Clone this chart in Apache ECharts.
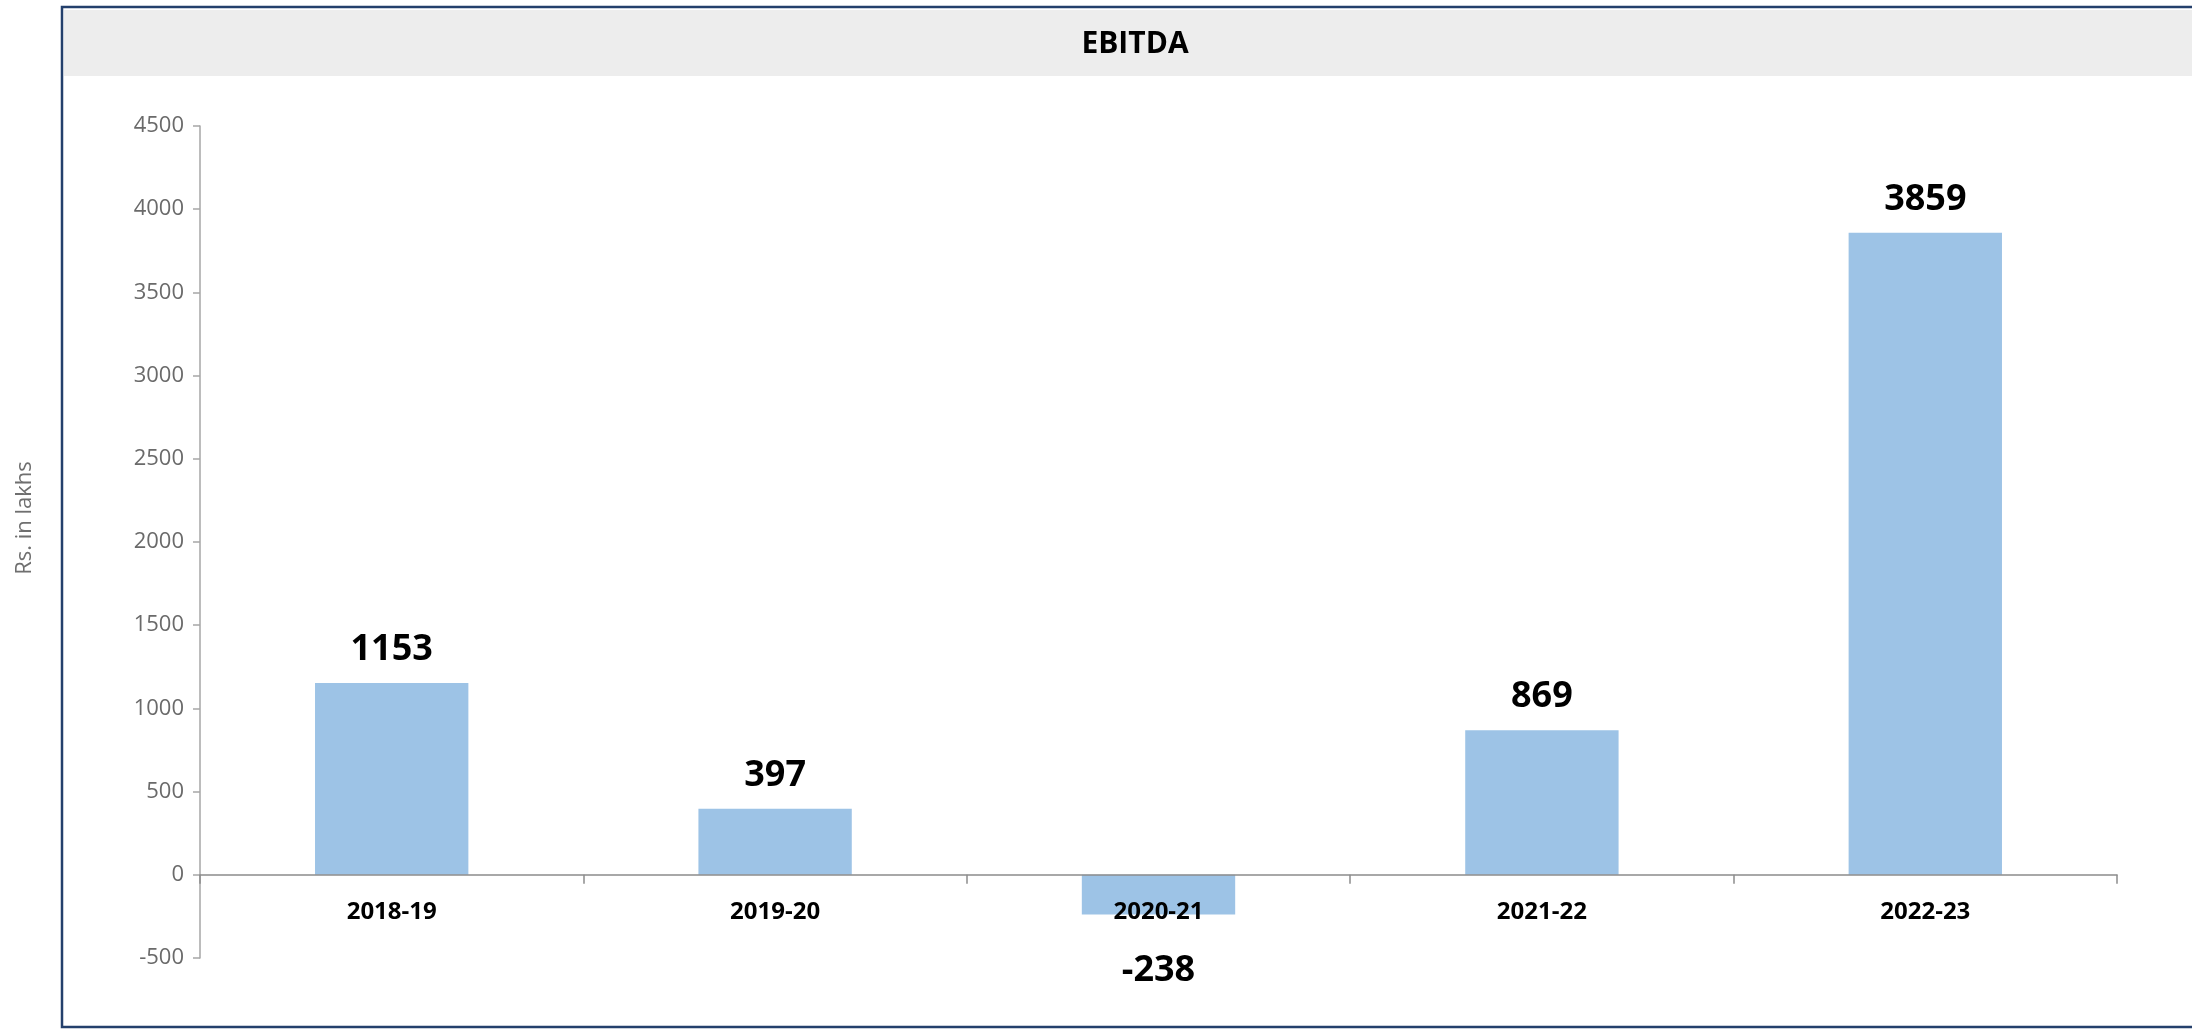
<!DOCTYPE html>
<html>
<head>
<meta charset="utf-8">
<script src="https://cdn.jsdelivr.net/npm/echarts@6/dist/echarts.min.js"></script>
<style>
html,body{margin:0;padding:0;background:#fff;}
#c{width:2192px;height:1030px;}
</style>
</head>
<body>
<div id="c"></div>
<script>
const categories = ['2018-19', '2019-20', '2020-21', '2021-22', '2022-23'];
const ebitda = [1153, 397, -238, 869, 3859];
const yMin = -500, yMax = 4500, yStep = 500;
const chartTitle = 'EBITDA';
const yName = 'Rs. in lakhs';

const font = '"Open Sans", "Liberation Sans", sans-serif';
const chart = echarts.init(document.getElementById('c'), null, {renderer: 'canvas'});

const gridTop = 126, gridBottom = 72, H = 1030;
const gridH = H - gridTop - gridBottom;
const zeroOffset = -((0 - yMin) / (yMax - yMin)) * gridH;

const barData = ebitda.map(v => ({
  value: v,
  label: v < 0 ? {position: 'bottom', distance: 38} : {position: 'top', distance: 15}
}));

chart.setOption({
  animation: false,
  backgroundColor: '#ffffff',
  title: {
    text: chartTitle,
    left: 1130,
    top: 24,
    textAlign: 'center',
    textStyle: {fontFamily: font, fontWeight: 'bold', fontSize: 30, color: '#000000'}
  },
  graphic: [
    {type: 'rect', z: -10, shape: {x: 62, y: 7, width: 2200, height: 1020},
     style: {fill: '#ffffff', stroke: '#24406c', lineWidth: 2.5}},
    {type: 'rect', z: -9, shape: {x: 64, y: 10, width: 2200, height: 66},
     style: {fill: '#ededed'}},
    {type: 'text', z: 5, x: 25, y: 518, rotation: Math.PI / 2,
     style: {text: yName, fontFamily: font, fontSize: 22, fill: '#6f6f6f', align: 'center', verticalAlign: 'middle'}}
  ],
  grid: {left: 200, right: 75, top: gridTop, bottom: gridBottom, containLabel: false},
  xAxis: {
    type: 'category',
    data: categories,
    z: 5,
    offset: zeroOffset,
    axisLine: {onZero: false, lineStyle: {color: '#8c8c8c', width: 1.5}},
    axisTick: {show: true, alignWithLabel: false, length: 9, lineStyle: {color: '#8c8c8c', width: 1.5}},
    axisLabel: {margin: 25, fontFamily: font, fontWeight: 'bold', fontSize: 24, color: '#000000'},
    splitLine: {show: false}
  },
  yAxis: {
    type: 'value',
    min: yMin,
    max: yMax,
    interval: yStep,
    axisLine: {show: true, lineStyle: {color: '#a6a6a6', width: 1.5}},
    axisTick: {show: true, length: 7, lineStyle: {color: '#a6a6a6', width: 1.5}},
    axisLabel: {margin: 16, fontFamily: font, fontSize: 22, color: '#6a6a6a', formatter: v => String(v)},
    splitLine: {show: false}
  },
  series: [{
    type: 'bar',
    data: barData,
    barWidth: '40%',
    itemStyle: {color: '#9dc3e6'},
    label: {show: true, fontFamily: font, fontWeight: 'bold', fontSize: 36, color: '#000000'}
  }]
});
</script>
</body>
</html>
